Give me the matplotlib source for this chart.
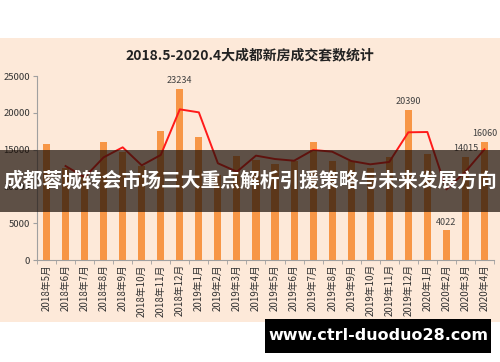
import numpy as np
import matplotlib
matplotlib.use("Agg")
from matplotlib import pyplot as plt
from matplotlib.patches import Rectangle

plt.rcParams['font.family'] = ['Noto Sans CJK SC', 'DejaVu Sans']

# monthly data, 2018.5 - 2020.4
months = ['2018年5月', '2018年6月', '2018年7月', '2018年8月', '2018年9月', '2018年10月',
          '2018年11月', '2018年12月', '2019年1月', '2019年2月', '2019年3月', '2019年4月',
          '2019年5月', '2019年6月', '2019年7月', '2019年8月', '2019年9月', '2019年10月',
          '2019年11月', '2019年12月', '2020年1月', '2020年2月', '2020年3月', '2020年4月']
deals = [15800, 12500, 11500, 16100, 14700, 12800, 17500, 23234, 16700, 11500, 14100, 13600,
         13100, 13400, 16100, 13450, 13400, 12500, 14000, 20390, 14400, 4022, 14015, 16060]
trend = [np.nan, 12770, 11240, 13950, 15310, 12860, 14270, 20470, 20060, 13140, 12000, 14180,
         13720, 13490, 14950, 14720, 13450, 13000, 13320, 17350, 17390, 9600, 12000, 15040]
labeled = [7, 19, 21, 22, 23]
yticks = [0, 5000, 10000, 15000, 20000, 25000]

title = '2018.5-2020.4大成都新房成交套数统计'
banner = '成都蓉城转会市场三大重点解析引援策略与未来发展方向'
site = 'www.ctrl-duoduo28.com'

W, H = 500, 362
fig = plt.figure(figsize=(5, 3.62), dpi=100)
fig.patch.set_facecolor('white')

# peach chart background
fig.add_artist(Rectangle((0, 1 - 322 / H), 1, (322 - 38) / H, transform=fig.transFigure,
                         facecolor='#fde9d9', edgecolor='none', zorder=-10))

ax = fig.add_axes([37 / W, 1 - 260 / H, (494 - 37) / W, (260 - 76) / H])
ax.set_facecolor('none')

x = np.arange(len(months))
ax.bar(x, deals, width=0.37, color='#f79646', zorder=2)
ax.plot(x, trend, color='#ff1a1a', lw=1.4, zorder=3)

for i in labeled:
    ax.text(x[i], deals[i] + 500, str(deals[i]), ha='center', va='bottom',
            fontsize=6.5, color='#404040')

ax.set_xlim(-0.5, len(months) - 0.5)
ax.set_ylim(0, 25000)
ax.set_yticks(yticks)
ax.set_yticklabels([str(v) for v in yticks], fontsize=6.8, color='#333333')
ax.set_xticks(x)
ax.set_xticklabels(months, rotation=90, fontsize=7, color='#333333')
ax.set_xticks(np.arange(-0.5, len(months), 1), minor=True)
ax.tick_params(axis='x', which='major', length=0, pad=3)
ax.tick_params(axis='x', which='minor', length=3, color='#a0a0a0')
ax.tick_params(axis='y', length=3, color='#a0a0a0', pad=2)
for s in ['top', 'right']:
    ax.spines[s].set_visible(False)
ax.spines['left'].set_color('#a0a0a0')
ax.spines['bottom'].set_color('#a0a0a0')

fig.text(0.5, 1 - 55 / H, title, ha='center', va='center', fontsize=10,
         fontweight='bold', color='#222222')

# dark overlay banner across the middle
fig.add_artist(Rectangle((0, 1 - 212 / H), 1, 62 / H, transform=fig.transFigure,
                         facecolor='#1a0f08', alpha=0.7, edgecolor='none', zorder=10))
fig.text(0.5, 1 - 181 / H, banner, ha='center', va='center', fontsize=14.2,
         fontweight='bold', color='white', zorder=11)

# site banner bottom right
fig.add_artist(Rectangle((265 / W, 1 - 353 / H), (491 - 265) / W, 34 / H,
                         transform=fig.transFigure, facecolor='black', edgecolor='none',
                         zorder=10))
fig.text(378 / W, 1 - 336 / H, site, ha='center', va='center', fontsize=11.5,
         fontweight='bold', color='white', family='DejaVu Sans', zorder=11)

fig.savefig('out.png', dpi=100)
